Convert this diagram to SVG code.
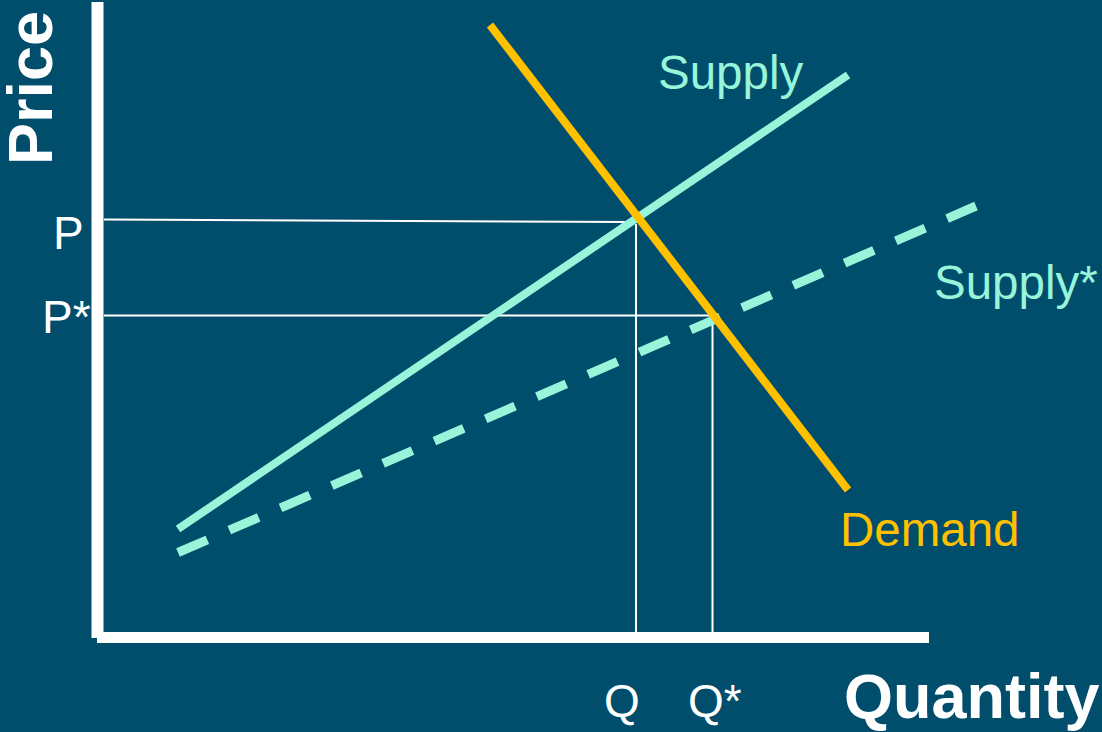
<svg xmlns="http://www.w3.org/2000/svg" width="1102" height="732" viewBox="0 0 1102 732">
  <style>
    .axis { fill: #ffffff; }
    .guide { stroke: #ffffff; stroke-width: 2; fill: none; }
    .supply { stroke: #99F5DA; stroke-width: 8; fill: none; }
    .supply-shift { stroke: #99F5DA; stroke-width: 9; fill: none; stroke-dasharray: 32 23.9; }
    .demand { stroke: #FFC000; stroke-width: 8; fill: none; }
    .lbl { font-family: "Liberation Sans", Arial, sans-serif; font-size: 46px; }
    .curve-lbl { font-family: "Liberation Sans", Arial, sans-serif; font-size: 47.5px; }
    .title { font-family: "Liberation Sans", Arial, sans-serif; font-size: 63px; font-weight: bold; fill: #ffffff; }
  </style>

  <!-- background -->
  <rect width="1102" height="732" fill="#004E6C"/>

  <!-- axes -->
  <g id="axes">
    <rect class="axis" x="91.5" y="2" width="12" height="636"/>
    <rect class="axis" x="97" y="632" width="832" height="11"/>
  </g>

  <!-- connectors: curves and guide lines -->
  <g id="connectors">
    <line class="guide" x1="104" y1="219.5" x2="630" y2="222"/>
    <line class="guide" x1="104" y1="315.5" x2="716" y2="315.5"/>
    <line class="guide" x1="636" y1="224" x2="636" y2="632"/>
    <line class="guide" x1="712.5" y1="320" x2="712.5" y2="632"/>
    <line class="supply-shift" x1="178" y1="552.5" x2="976" y2="206"/>
    <line class="supply" x1="178" y1="529" x2="848" y2="75"/>
    <line class="demand" x1="490" y1="25" x2="848" y2="490"/>
  </g>

  <!-- axis titles -->
  <g id="price-title">
    <text class="title" transform="translate(52 165) rotate(-90)">Price</text>
  </g>
  <g id="quantity-title">
    <text class="title" x="844" y="718">Quantity</text>
  </g>

  <!-- tick labels -->
  <g id="label-p">
    <text class="lbl" x="53" y="249" fill="#ffffff">P</text>
  </g>
  <g id="label-pstar">
    <text class="lbl" x="42" y="333" fill="#ffffff">P*</text>
  </g>
  <g id="label-q">
    <text class="lbl" x="604" y="717" fill="#ffffff">Q</text>
  </g>
  <g id="label-qstar">
    <text class="lbl" x="688" y="717" fill="#ffffff">Q*</text>
  </g>

  <!-- curve labels -->
  <g id="label-supply">
    <text class="curve-lbl" x="658" y="89" fill="#99F5DA">Supply</text>
  </g>
  <g id="label-supplystar">
    <text class="curve-lbl" x="934" y="299" fill="#99F5DA">Supply*</text>
  </g>
  <g id="label-demand">
    <text class="curve-lbl" x="840" y="546" fill="#FFC000">Demand</text>
  </g>
</svg>
